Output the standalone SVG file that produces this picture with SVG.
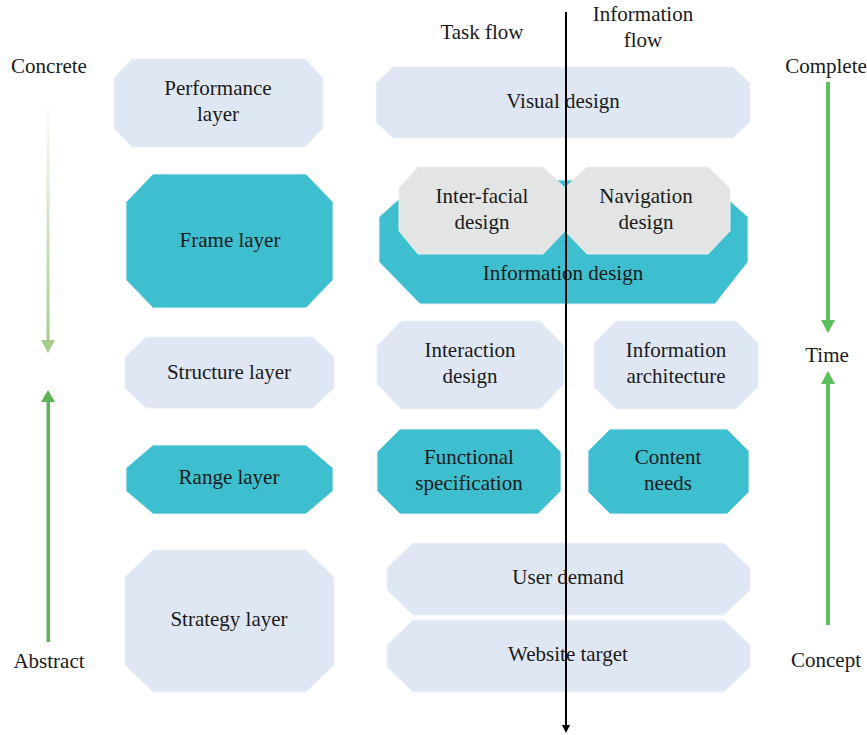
<svg xmlns="http://www.w3.org/2000/svg" width="867" height="735" viewBox="0 0 867 735">
  <style>
    text { font-family: 'Liberation Serif', 'DejaVu Serif', serif; font-size: 21px; fill: #1a1a1a; text-anchor: middle; }
    .light { fill: #E0E7F4; stroke: #EDF1F8; stroke-width: 1; }
    .teal { fill: #3DBFCF; stroke: #E6EEF6; stroke-width: 1; }
    .grey { fill: #E3E4E4; stroke: #EEEEEE; stroke-width: 1; }
  </style>
  <defs>
    <linearGradient id="fade" x1="0" y1="0" x2="0" y2="1">
      <stop offset="0" stop-color="#FFFFFF"/>
      <stop offset="1" stop-color="#A5CC88"/>
    </linearGradient>
  </defs>

  <rect width="867" height="735" fill="#FFFFFF"/>

  <!-- side labels -->
  <g id="axis-labels">
    <text x="49" y="73">Concrete</text>
    <text x="49" y="668">Abstract</text>
    <text x="826" y="73">Complete</text>
    <text x="827" y="362">Time</text>
    <text x="826" y="667">Concept</text>
    <text x="482" y="39">Task flow</text>
    <text x="643" y="21">Information</text>
    <text x="643" y="47">flow</text>
  </g>

  <!-- layer column -->
  <g id="performance-layer">
    <polygon class="light" points="132,59 305,59 323,78 323,128 305,147 132,147 114,128 114,78"/>
    <text x="218" y="95">Performance</text>
    <text x="218" y="121">layer</text>
  </g>
  <g id="frame-layer">
    <polygon class="teal" points="153,174 306,174 333,202 333,280 306,308 153,308 126,280 126,202"/>
    <text x="230" y="247">Frame layer</text>
  </g>
  <g id="structure-layer">
    <polygon class="light" points="146,337 313,337 334,357 334,388 313,408 146,408 125,388 125,357"/>
    <text x="229" y="379">Structure layer</text>
  </g>
  <g id="range-layer">
    <polygon class="teal" points="153,445 306,445 333,468 333,491 306,514 153,514 126,491 126,468"/>
    <text x="229" y="484">Range layer</text>
  </g>
  <g id="strategy-layer">
    <polygon class="light" points="153,550 306,550 334,577 334,665 306,692 153,692 125,665 125,577"/>
    <text x="229" y="626">Strategy layer</text>
  </g>

  <!-- design elements -->
  <g id="visual-design">
    <polygon class="light" points="393,67 733,67 750,83 750,122 733,138 393,138 376,122 376,83"/>
    <text x="563" y="108">Visual design</text>
  </g>
  <g id="information-design">
    <polygon class="teal" points="420,180 707,180 748,217 748,262 715,304 420,304 379,262 379,217"/>
    <text x="563" y="280">Information design</text>
  </g>
  <g id="interfacial-design">
    <polygon class="grey" points="418,167 543,167 565,188 565,231 543,254 418,254 399,231 399,188"/>
    <text x="482" y="203">Inter-facial</text>
    <text x="482" y="229">design</text>
  </g>
  <g id="navigation-design">
    <polygon class="grey" points="587,167 708,167 730,188 730,231 708,254 587,254 565,231 565,188"/>
    <text x="646" y="203">Navigation</text>
    <text x="646" y="229">design</text>
  </g>
  <g id="interaction-design">
    <polygon class="light" points="401,321 540,321 564,346 564,384 540,409 401,409 377,384 377,346"/>
    <text x="470" y="357">Interaction</text>
    <text x="470" y="383">design</text>
  </g>
  <g id="information-architecture">
    <polygon class="light" points="616,321 736,321 758,343 758,387 736,409 616,409 594,387 594,343"/>
    <text x="676" y="357">Information</text>
    <text x="676" y="383">architecture</text>
  </g>
  <g id="functional-specification">
    <polygon class="teal" points="400,429 538,429 561,452 561,491 538,514 400,514 377,491 377,452"/>
    <text x="469" y="464">Functional</text>
    <text x="469" y="490">specification</text>
  </g>
  <g id="content-needs">
    <polygon class="teal" points="610,429 727,429 749,451 749,492 727,514 610,514 588,492 588,451"/>
    <text x="668" y="464">Content</text>
    <text x="668" y="490">needs</text>
  </g>
  <g id="user-demand">
    <polygon class="light" points="413,543 724,543 750,568 750,590 724,615 413,615 387,590 387,568"/>
    <text x="568" y="584">User demand</text>
  </g>
  <g id="website-target">
    <polygon class="light" points="413,620 724,620 750,645 750,667 724,692 413,692 387,667 387,645"/>
    <text x="568" y="661">Website target</text>
  </g>

  <!-- arrows -->
  <g id="connectors">
    <rect x="46.5" y="98" width="3" height="244" fill="url(#fade)"/>
    <polygon points="41,340 55,340 48,353" fill="#A5CC88"/>
    <rect x="46.5" y="400" width="3.5" height="242" fill="#5BB556"/>
    <polygon points="41,402 55,402 48,390" fill="#5BB556"/>
    <rect x="826" y="82" width="4" height="240" fill="#5BBF5B"/>
    <polygon points="821,320 835,320 828,333" fill="#5BBF5B"/>
    <rect x="826" y="382" width="4" height="243" fill="#5BBF5B"/>
    <polygon points="821,384 835,384 828,371" fill="#5BBF5B"/>
    <line x1="566" y1="12" x2="566" y2="726" stroke="#000" stroke-width="2"/>
    <polygon points="562,725 570,725 566,733" fill="#000"/>
  </g>
</svg>
